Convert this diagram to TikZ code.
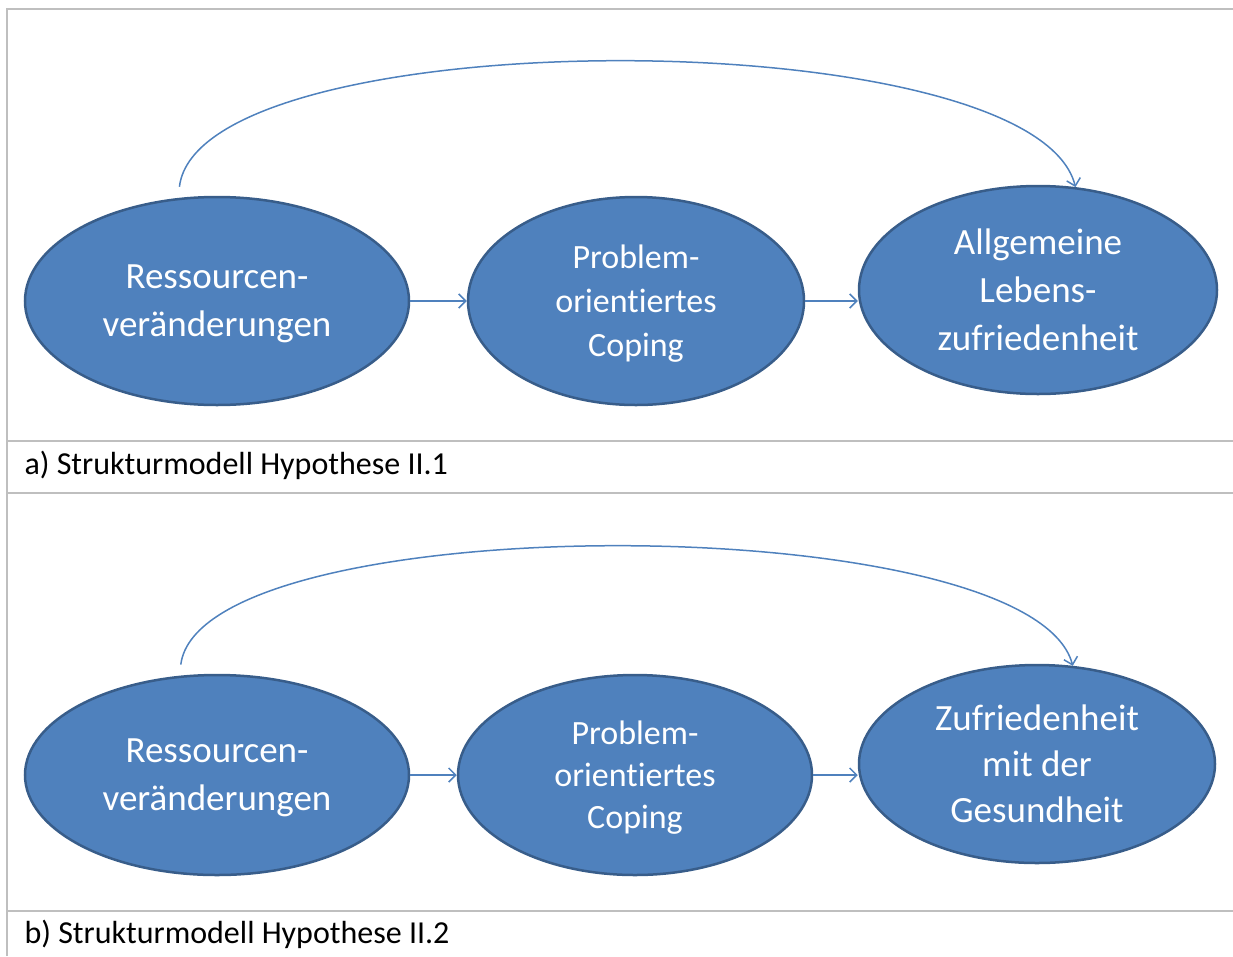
\documentclass[tikz,border=0pt]{standalone}
\usepackage{fontspec}
\setmainfont{Carlito}[Ligatures=NoCommon]
\usetikzlibrary{shapes.geometric,arrows.meta,calc}

\definecolor{ovalblau}{HTML}{4F81BD}
\definecolor{randblau}{HTML}{385D8A}
\definecolor{rahmengrau}{HTML}{BFBFBF}

\tikzset{
    zustand/.style={ellipse, fill=ovalblau, draw=randblau, line width=2.5pt,
        text=white, align=center, inner sep=0pt, text depth=0pt},
    pfeil/.style={draw=ovalblau, line width=1.5pt,
        -{Straight Barb[length=7pt,width=14pt]}},
    rahmen/.style={draw=rahmengrau, line width=2pt},
    titel/.style={anchor=base west, font=\fontsize{32}{38}\selectfont},
}

\begin{document}
\begin{tikzpicture}[x=1pt,y=-1pt]
    \useasboundingbox (0,0) rectangle (1233,956);
%
    % Tabellenrahmen
    \draw[rahmen] (7,956) -- (7,9) -- (1233,9);
    \foreach \y in {441,493,911}{
        \draw[rahmen] (7,\y) -- (1233,\y);
    }
%
    % a) Hypothese II.1
    \node[zustand, minimum width=384pt, minimum height=208pt,
        font=\fontsize{37}{48}\selectfont] (ressA) at (217,301)
        {Ressourcen-\\veränderungen};
    \node[zustand, minimum width=336pt, minimum height=208pt,
        font=\fontsize{34}{44}\selectfont] (copA) at (636,301)
        {Problem-\\orientiertes\\Coping};
    \node[zustand, minimum width=358pt, minimum height=208pt,
        font=\fontsize{37}{48}\selectfont] (zufA) at (1038,290)
        {Allgemeine\\Lebens-\\zufriedenheit};
    \draw[pfeil] (ressA) -- (copA);
    \draw[pfeil] (copA.east) -- (copA.east -| zufA.west);
    \draw[pfeil] ($(ressA.110)+(0,-11)$) .. controls +(20,-168) and +(-42,-168) .. (zufA.70);
    \node[titel] (titelA) at (21,474) {a) Strukturmodell Hypothese II.1};
%
    % b) Hypothese II.2
    \node[zustand, minimum width=384pt, minimum height=200pt,
        font=\fontsize{37}{48}\selectfont] (ressB) at (217,775)
        {Ressourcen-\\veränderungen};
    \node[zustand, minimum width=354pt, minimum height=200pt,
        font=\fontsize{34}{42}\selectfont] (copB) at (635,775)
        {Problem-\\orientiertes\\Coping};
    \node[zustand, minimum width=356pt, minimum height=198pt,
        font=\fontsize{37}{46}\selectfont] (zufB) at (1037,764)
        {Zufriedenheit\\mit der\\Gesundheit};
    \draw[pfeil] (ressB) -- (copB);
    \draw[pfeil] (copB.east) -- (copB.east -| zufB.west);
    \draw[pfeil] ($(ressB.110)+(0,-11)$) .. controls +(20,-159) and +(-42,-159) .. (zufB.70);
    \node[titel] (titelB) at (21,943) {b) Strukturmodell Hypothese II.2};
\end{tikzpicture}
\end{document}
